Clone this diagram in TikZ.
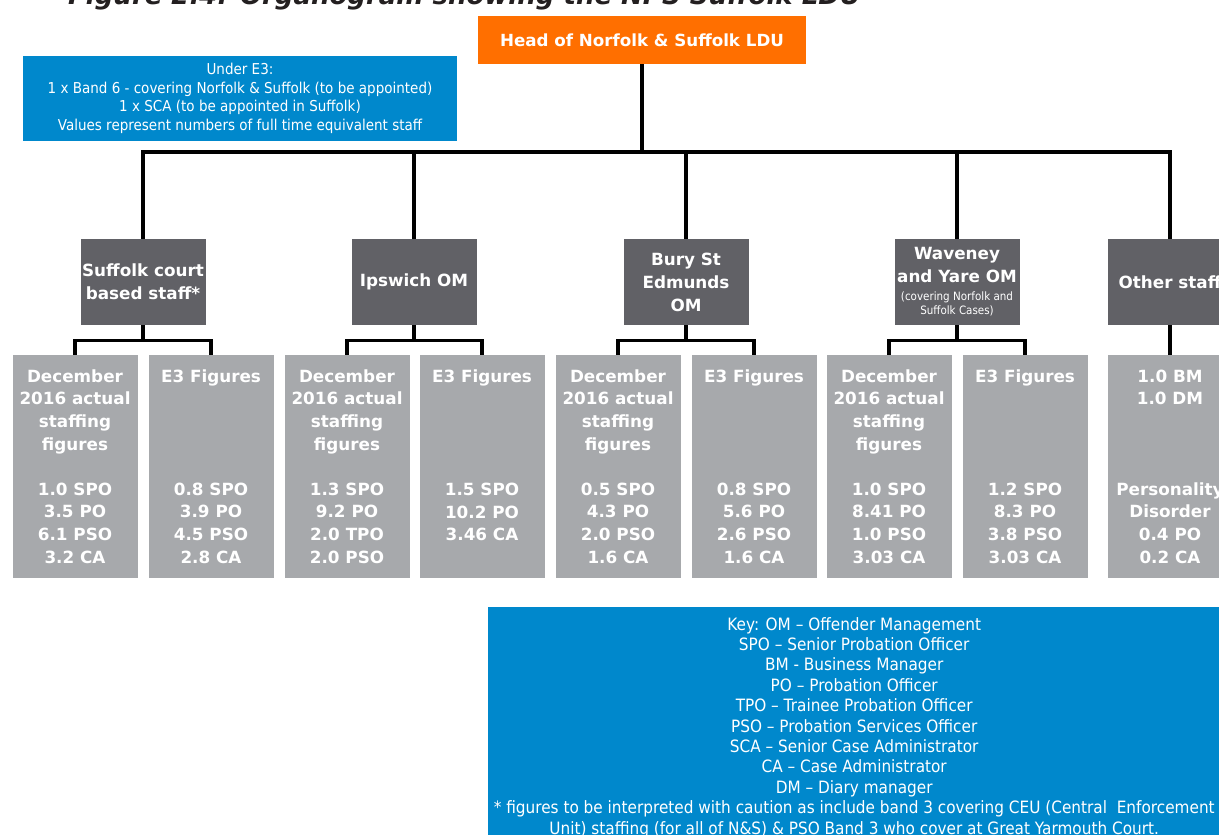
\documentclass[tikz,border=0pt]{standalone}
\usepackage{fontspec}
\setmainfont{DejaVu Sans}
\newfontfamily\narrowfont[FakeStretch=0.9]{DejaVu Sans}
\usetikzlibrary{positioning,calc}
\definecolor{headorange}{HTML}{FF6F00}
\definecolor{noteblue}{HTML}{0088CC}
\definecolor{unitgrey}{HTML}{616166}
\definecolor{figgrey}{HTML}{A7A9AC}
\definecolor{titleink}{HTML}{231F20}

\begin{document}
\begin{tikzpicture}[x=1pt, y=-1pt,
            every node/.style={inner sep=0pt, text=white, align=center},
            head/.style={fill=headorange, minimum width=328pt, minimum height=48pt,
                font=\bfseries\fontsize{16.7}{20}\selectfont},
            note/.style={fill=noteblue, font=\narrowfont\fontsize{15}{18.5}\selectfont},
            unit/.style={fill=unitgrey, minimum width=125pt, minimum height=86pt,
                font=\bfseries\fontsize{16.8}{23}\selectfont},
            figs/.style={fill=figgrey, minimum width=125pt, minimum height=223pt,
                font=\bfseries\fontsize{16.8}{22.6}\selectfont},
            link/.style={draw=black, line width=3.2pt, line join=miter}]
        \useasboundingbox (0,0) rectangle (1219,835);
        \clip (0,0) rectangle (1219,835);

        \node[anchor=base west, text=titleink, font=\bfseries\itshape\fontsize{26}{30}\selectfont]
            (title) at (68,4.5) {Figure 2.4: Organogram showing the NPS Suffolk LDU};

        \node[head] (head) at (642,40) {Head of Norfolk \& Suffolk LDU};
        \node[note, minimum width=434pt, minimum height=85pt] (e3note) at (240,98.5)
            {Under E3:\\1 x Band 6 - covering Norfolk \& Suffolk (to be appointed)\\
             1 x SCA (to be appointed in Suffolk)\\Values represent numbers of full time equivalent staff};

        % units
        \node[unit] (court) at (143,282) {Suffolk court\\based staff*};
        \node[unit] (ipswich) at (414,282) {Ipswich OM};
        \node[unit] (bury) at (686,282) {Bury St\\Edmunds\\OM};
        \node[unit] (waveney) at (957,282) {Waveney\\and Yare OM\\[-5pt]
            {\narrowfont\mdseries\fontsize{11.5}{14}\selectfont (covering Norfolk and}\\[-9pt]
            {\narrowfont\mdseries\fontsize{11.5}{14}\selectfont Suffolk Cases)}};
        \node[unit] (other) at (1170,282) {Other staff};

        % staffing figures
        \node[figs] (courtdec) at (75,466.5)
            {December\\2016 actual\\staffing\\figures\\{}\\1.0 SPO\\3.5 PO\\6.1 PSO\\3.2 CA};
        \node[figs] (courte3) at (211,466.5)
            {E3 Figures\\{}\\{}\\{}\\{}\\0.8 SPO\\3.9 PO\\4.5 PSO\\2.8 CA};
        \node[figs] (ipswichdec) at (347,466.5)
            {December\\2016 actual\\staffing\\figures\\{}\\1.3 SPO\\9.2 PO\\2.0 TPO\\2.0 PSO};
        \node[figs] (ipswiche3) at (482,466.5)
            {E3 Figures\\{}\\{}\\{}\\{}\\1.5 SPO\\10.2 PO\\3.46 CA\\{}};
        \node[figs] (burydec) at (618,466.5)
            {December\\2016 actual\\staffing\\figures\\{}\\0.5 SPO\\4.3 PO\\2.0 PSO\\1.6 CA};
        \node[figs] (burye3) at (754,466.5)
            {E3 Figures\\{}\\{}\\{}\\{}\\0.8 SPO\\5.6 PO\\2.6 PSO\\1.6 CA};
        \node[figs] (waveneydec) at (889,466.5)
            {December\\2016 actual\\staffing\\figures\\{}\\1.0 SPO\\8.41 PO\\1.0 PSO\\3.03 CA};
        \node[figs] (waveneye3) at (1025,466.5)
            {E3 Figures\\{}\\{}\\{}\\{}\\1.2 SPO\\8.3 PO\\3.8 PSO\\3.03 CA};
        \node[figs] (otherfig) at (1170,466.5)
            {1.0 BM\\1.0 DM\\{}\\{}\\{}\\Personality\\Disorder\\0.4 PO\\0.2 CA};

        \node[note, anchor=north west, minimum width=732pt, inner ysep=10pt,
            font=\narrowfont\fontsize{17}{20.4}\selectfont] (key) at (488,607)
            {Key: OM – Offender Management\\SPO – Senior Probation Officer\\BM - Business Manager\\
             PO – Probation Officer\\TPO – Trainee Probation Officer\\PSO – Probation Services Officer\\
             SCA – Senior Case Administrator\\CA – Case Administrator\\DM – Diary manager\\
             * figures to be interpreted with caution as include band 3 covering CEU (Central~ Enforcement\\
             Unit) staffing (for all of N\&S) \& PSO Band 3 who cover at Great Yarmouth Court.};

        % connectors
        \coordinate (bus) at (642,152);
        \draw[link] (head.south) -- (bus);
        \draw[link] (court.north) -- (court.north |- bus) -- (other.north |- bus) -- (other.north);
        \draw[link] (ipswich.north) -- (ipswich.north |- bus);
        \draw[link] (bury.north) -- (bury.north |- bus);
        \draw[link] (waveney.north) -- (waveney.north |- bus);

        \draw[link] (court.south) -- ++(0,16);
        \draw[link] (courtdec.north) -- ++(0,-14) -| (courte3.north);
        \draw[link] (ipswich.south) -- ++(0,16);
        \draw[link] (ipswichdec.north) -- ++(0,-14) -| (ipswiche3.north);
        \draw[link] (bury.south) -- ++(0,16);
        \draw[link] (burydec.north) -- ++(0,-14) -| (burye3.north);
        \draw[link] (waveney.south) -- ++(0,16);
        \draw[link] (waveneydec.north) -- ++(0,-14) -| (waveneye3.north);
        \draw[link] (other.south) -- (otherfig.north);
\end{tikzpicture}
\end{document}
